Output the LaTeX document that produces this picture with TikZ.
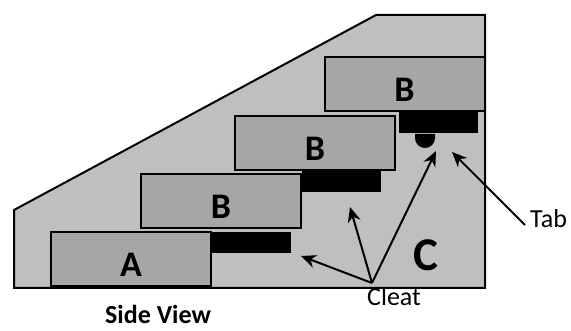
\documentclass[tikz,border=0pt]{standalone}
\usepackage{fontspec}
\setmainfont{Carlito}
\usetikzlibrary{positioning, arrows.meta}

\begin{document}
\begin{tikzpicture}[
    x=1pt, y=-1pt, >=Stealth,
    board/.style={draw=black, line width=2pt, fill=black!35, minimum width=160pt, minimum height=54pt, inner sep=0pt, text height=35pt, text depth=0pt, font=\bfseries\fontsize{36}{36}\selectfont},
    cleat/.style={fill=black, inner sep=0pt, minimum width=79pt, minimum height=21pt},
    pointer/.style={line width=2pt, -{Stealth[length=15pt, width=13pt]}}
]
    \useasboundingbox (0,0) rectangle (571,331);

    % Label under the side wall
    \node[font=\fontsize{26}{26}\selectfont, anchor=base west, inner sep=0pt] (cleatlabel) at (367,306) {Cleat};

    % Side wall
    \draw[line width=2pt, fill=black!25] (14,210) -- (376,15) -- (485,15) -- (485,288) -- (14,288) -- cycle;

    % Boards
    \node[board] (boardA) at (131,259) {A};
    \node[board] (boardB) at (221,201) {B};
    \node[board] (boardC) at (315,143.5) {B};
    \node[board] (boardD) at (404.5,84.5) {B};

    % Cleats
    \node[cleat, anchor=north west] (cleatA) at (212,232) {};
    \node[cleat, anchor=north west] (cleatB) at (302,171) {};
    \node[cleat, anchor=north west] (cleatC) at (399,112) {};

    % Tab
    \fill[black] (415,134) -- (415,138) arc[start angle=180, end angle=360, x radius=10pt, y radius=10pt] -- (435,134) -- cycle;

    \node[font=\bfseries\fontsize{47}{47}\selectfont, anchor=base, inner sep=0pt] (wallC) at (426,271) {C};
    \node[font=\fontsize{26}{26}\selectfont, anchor=base west, inner sep=0pt] (tablabel) at (530,228) {Tab};
    \node[font=\bfseries\fontsize{26}{26}\selectfont, anchor=base, inner sep=0pt] (sideview) at (158,324) {Side View};

    % Arrows
    \coordinate (fan) at (372,283);
    \coordinate (tipA) at (301,256);
    \coordinate (tipB) at (350,207);
    \coordinate (tipC) at (436,151);
    \coordinate (tiptab) at (452,152);
    \coordinate (tabstart) at (525,225);
    \draw[pointer] (fan) -- (tipA);
    \draw[pointer] (fan) -- (tipB);
    \draw[pointer] (fan) -- (tipC);
    \draw[pointer] (tabstart) -- (tiptab);

\end{tikzpicture}
\end{document}
